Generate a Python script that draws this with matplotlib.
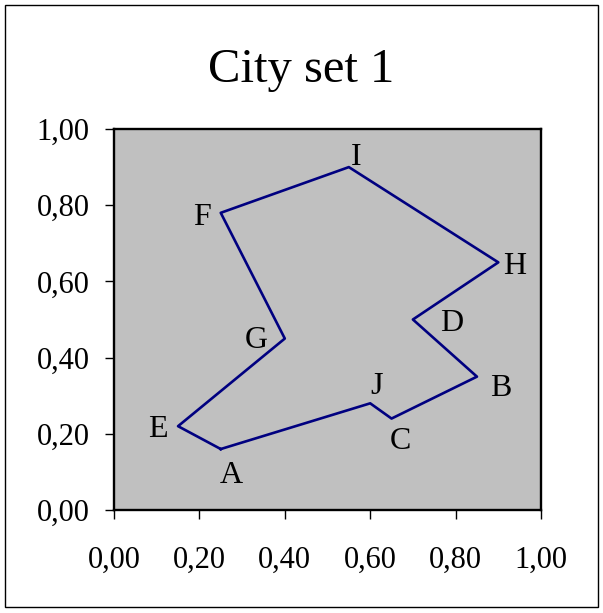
import matplotlib
matplotlib.use("Agg")
import matplotlib.pyplot as plt
from matplotlib.patches import Rectangle
from matplotlib.ticker import FuncFormatter

cities = ["A", "E", "G", "F", "I", "H", "D", "B", "C", "J"]
xs = [0.25, 0.15, 0.40, 0.25, 0.55, 0.90, 0.70, 0.85, 0.65, 0.60]
ys = [0.16, 0.22, 0.45, 0.78, 0.90, 0.65, 0.50, 0.35, 0.24, 0.28]
ticks = [0.0, 0.2, 0.4, 0.6, 0.8, 1.0]

# label offsets in pixels (style only)
offsets = {"A": (11, -26), "E": (-20, -3), "G": (-29, -2), "F": (-19, -5),
           "I": (7, 10), "H": (16, -4), "D": (39, -4), "B": (24, -12),
           "C": (9, -23), "J": (6, 17)}

W, H = 603, 613
fig = plt.figure(figsize=(W / 100, H / 100), dpi=100)
fig.patch.set_facecolor("white")
serif = ["Liberation Serif", "DejaVu Serif"]

fig.patches.append(Rectangle((5 / W, 1 - 607 / H), 593 / W, 602 / H,
                             transform=fig.transFigure, fill=False,
                             edgecolor="black", linewidth=1.0))

ax = fig.add_axes([114 / W, 1 - 510 / H, 427 / W, 381 / H])
ax.set_facecolor("#C0C0C0")
ax.plot(xs + xs[:1], ys + ys[:1], color="#000080", linewidth=1.9)
ax.set_xlim(0, 1)
ax.set_ylim(0, 1)
ax.set_xticks(ticks)
ax.set_yticks(ticks)
fmt = FuncFormatter(lambda v, p: f"{v:.2f}".replace(".", ","))
ax.xaxis.set_major_formatter(fmt)
ax.yaxis.set_major_formatter(fmt)
for s in ax.spines.values():
    s.set_linewidth(1.7)
    s.set_color("black")
ax.tick_params(axis="both", direction="out", length=6.5, width=1.0,
               labelsize=22, color="black")
ax.tick_params(axis="x", pad=19)
ax.tick_params(axis="y", pad=11)
for lab in ax.get_xticklabels() + ax.get_yticklabels():
    lab.set_fontfamily(serif)

for name, x, y in zip(cities, xs, ys):
    dx, dy = offsets[name]
    ax.annotate(name, (x, y), xytext=(dx, dy), textcoords="offset pixels",
                ha="center", va="center", fontsize=23, family=serif,
                color="black", annotation_clip=False)

fig.text(0.5, 1 - 70 / H, "City set 1", ha="center", va="center",
         fontsize=35, family=serif)

fig.savefig("out.png", dpi=100)
